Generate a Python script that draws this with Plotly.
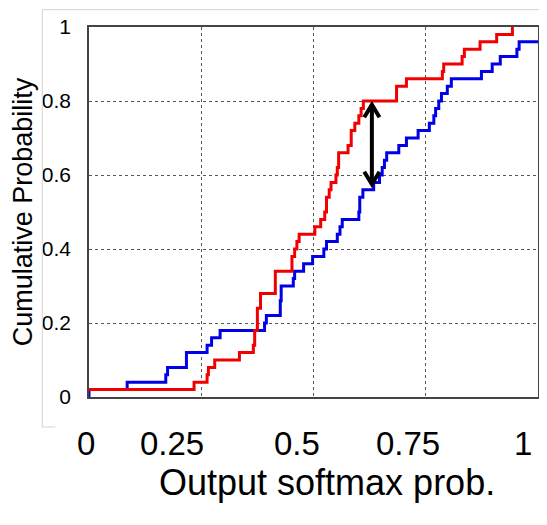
import plotly.graph_objects as go

red_x = [0, 0.234, 0.263, 0.266, 0.280, 0.335, 0.366, 0.369, 0.375, 0.382,
         0.415, 0.452, 0.458, 0.463, 0.468, 0.503, 0.516, 0.525, 0.529, 0.535,
         0.539, 0.550, 0.553, 0.556, 0.577, 0.584, 0.592, 0.601, 0.606, 0.611,
         0.685, 0.707, 0.787, 0.790, 0.831, 0.836, 0.871, 0.908, 0.943]
red_y = [0.02, 0.04, 0.06, 0.08, 0.10, 0.12, 0.14, 0.18, 0.24, 0.28,
         0.34, 0.38, 0.40, 0.42, 0.44, 0.46, 0.48, 0.50, 0.54, 0.56,
         0.58, 0.60, 0.62, 0.66, 0.68, 0.72, 0.74, 0.76, 0.78, 0.80,
         0.84, 0.86, 0.88, 0.90, 0.92, 0.94, 0.96, 0.98, 1.00]

blue_x = [0, 0, 0.085, 0.171, 0.175, 0.217, 0.263, 0.273, 0.292, 0.391,
          0.395, 0.426, 0.428, 0.455, 0.458, 0.478, 0.498, 0.523, 0.529, 0.553,
          0.559, 0.564, 0.601, 0.603, 0.610, 0.634, 0.647, 0.653, 0.658, 0.663,
          0.690, 0.707, 0.733, 0.758, 0.768, 0.772, 0.779, 0.785, 0.798, 0.807,
          0.874, 0.898, 0.916, 0.953, 0.958, 1.0]
blue_y = [0, 0.02, 0.04, 0.06, 0.08, 0.12, 0.14, 0.16, 0.18, 0.20,
          0.22, 0.26, 0.30, 0.32, 0.34, 0.36, 0.38, 0.40, 0.42, 0.44,
          0.46, 0.48, 0.50, 0.54, 0.56, 0.58, 0.60, 0.62, 0.64, 0.66,
          0.68, 0.70, 0.72, 0.74, 0.76, 0.78, 0.80, 0.82, 0.84, 0.86,
          0.88, 0.90, 0.92, 0.94, 0.96, 0.96]

y_ticks = [0, 0.2, 0.4, 0.6, 0.8, 1]
y_tick_labels = ["0", "0.2", "0.4", "0.6", "0.8", "1"]
x_grid = [0, 0.25, 0.5, 0.75, 1]
x_tick_labels = ["0", "0.25", "0.5", "0.75", "1"]
x_tick_label_pos = [-0.007, 0.185, 0.464, 0.711, 0.967]  # paper x of pasted labels

# gap arrow (KS distance) between the two curves
arrow_x = 0.63
arrow_top = 0.79
arrow_bottom = 0.575

FONT = "Liberation Sans, Arial, sans-serif"

fig = go.Figure()
fig.add_trace(go.Scatter(x=blue_x, y=blue_y, mode="lines", line_shape="hv",
                         line=dict(color="#0000e6", width=3), showlegend=False))
fig.add_trace(go.Scatter(x=red_x, y=red_y, mode="lines", line_shape="hv",
                         line=dict(color="#f00000", width=3), showlegend=False))

# arrow: shaft and two open chevron heads
hw, hh = 0.017, 0.034
fig.add_shape(type="line", x0=arrow_x, x1=arrow_x, y0=arrow_bottom, y1=arrow_top,
              line=dict(color="black", width=4), xref="x", yref="y")
fig.add_shape(type="path",
              path=f"M {arrow_x-hw},{arrow_top-hh} L {arrow_x},{arrow_top} L {arrow_x+hw},{arrow_top-hh}",
              line=dict(color="black", width=4), xref="x", yref="y")
fig.add_shape(type="path",
              path=f"M {arrow_x-hw},{arrow_bottom+hh} L {arrow_x},{arrow_bottom} L {arrow_x+hw},{arrow_bottom+hh}",
              line=dict(color="black", width=4), xref="x", yref="y")

# thin frame of the inset picture
frame_col = "#d4d4d4"
fig.add_shape(type="line", xref="paper", yref="paper", x0=-0.104, x1=1.03, y0=1.047, y1=1.047,
              line=dict(color=frame_col, width=1))
fig.add_shape(type="line", xref="paper", yref="paper", x0=-0.104, x1=-0.104, y0=1.047, y1=-0.081,
              line=dict(color=frame_col, width=1))
fig.add_shape(type="line", xref="paper", yref="paper", x0=-0.104, x1=-0.075, y0=-0.081, y1=-0.081,
              line=dict(color=frame_col, width=1))

# pasted x tick labels
for lab, px in zip(x_tick_labels, x_tick_label_pos):
    fig.add_annotation(x=px, y=-0.127, xref="paper", yref="paper", text=lab,
                       showarrow=False, xanchor="center", yanchor="middle",
                       font=dict(family=FONT, size=33, color="black"))

fig.add_annotation(x=0.53, y=-0.232, xref="paper", yref="paper", text="Output softmax prob.",
                   showarrow=False, xanchor="center", yanchor="middle",
                   font=dict(family=FONT, size=36, color="black"))

fig.update_layout(
    width=539, height=517,
    margin=dict(l=79, r=7, t=18, b=128),
    paper_bgcolor="white", plot_bgcolor="white",
    font=dict(family=FONT, color="black"),
    xaxis=dict(range=[0, 1], tickvals=x_grid, showticklabels=False,
               showgrid=True, gridcolor="#555555", griddash="dot", gridwidth=1,
               showline=True, linecolor="#444444", linewidth=1.5, mirror=True,
               zeroline=False, ticks=""),
    yaxis=dict(range=[0, 1], tickvals=y_ticks, ticktext=y_tick_labels,
               tickfont=dict(family=FONT, size=21, color="black"),
               showgrid=True, gridcolor="#555555", griddash="dot", gridwidth=1,
               showline=True, linecolor="#444444", linewidth=1.5, mirror=True,
               zeroline=False, ticks="", ticklabelstandoff=12,
               title=dict(text="Cumulative Probability", standoff=8,
                          font=dict(family=FONT, size=27, color="black"))),
)

fig.write_html("out.html")
